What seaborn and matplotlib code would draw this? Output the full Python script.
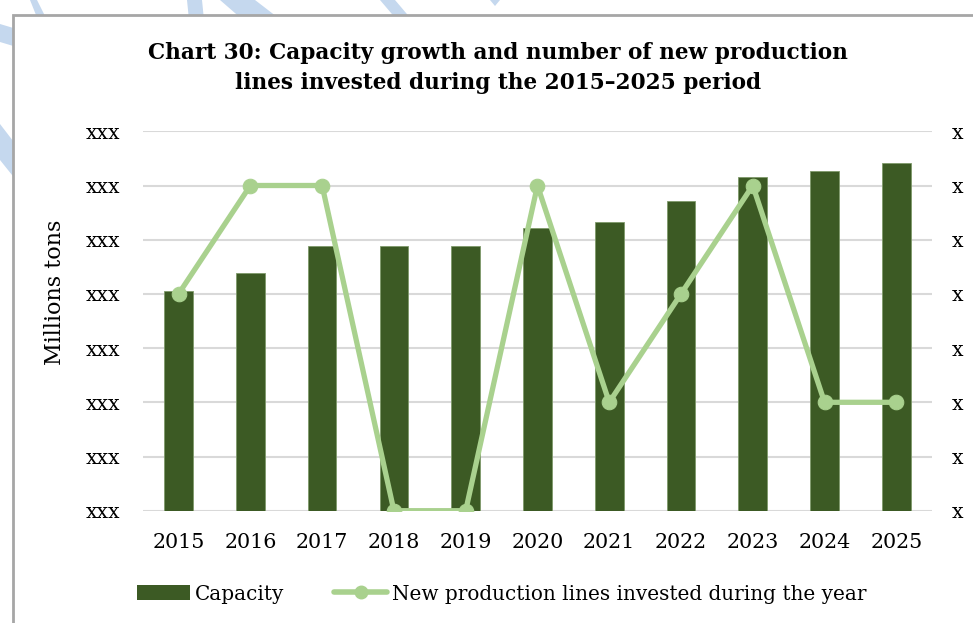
import numpy as np
import pandas as pd
import matplotlib
matplotlib.use("Agg")
import matplotlib.pyplot as plt
import seaborn as sns
from matplotlib.patches import Rectangle, Polygon, Patch
from matplotlib.lines import Line2D

# ---- data ----
years = ["2015", "2016", "2017", "2018", "2019", "2020", "2021", "2022", "2023", "2024", "2025"]
capacity = [4.05, 4.38, 4.89, 4.89, 4.89, 5.21, 5.33, 5.71, 6.16, 6.27, 6.41]
new_lines = [4, 6, 6, 0, 0, 6, 2, 4, 6, 2, 2]
left_ticklabels = ["xxx"] * 8
right_ticklabels = ["x"] * 8

title = "Chart 30: Capacity growth and number of new production\nlines invested during the 2015\u20132025 period"
ylabel = "Millions tons"
bar_label = "Capacity"
line_label = "New production lines invested during the year"

BAR_COLOR = "#3c5a24"
LINE_COLOR = "#a9d18e"
GRID_COLOR = "#d9d9d9"
FONT = ["DejaVu Serif"]

sns.set_theme(style="white")
plt.rcParams["font.family"] = FONT
plt.rcParams["text.color"] = "black"
plt.rcParams["xtick.color"] = "black"
plt.rcParams["ytick.color"] = "black"
plt.rcParams["axes.labelcolor"] = "black"

W, H = 973, 623
fig = plt.figure(figsize=(W / 100, H / 100), dpi=100)
fig.patch.set_facecolor("white")

def fx(x):
    return x / W

def fy(y):
    return 1 - y / H

# watermark stripes behind chart border
stripes = [
    [(30, 0), (37, 0), (47, 20), (38, 20)],
    [(187, 0), (202, 0), (204, 20), (189, 20)],
    [(220, 0), (255, 0), (281, 20), (243, 20)],
    [(380, 0), (395, 0), (412, 20), (397, 20)],
    [(490, 0), (500, 0), (495, 6)],
    [(0, 24), (0, 42), (20, 48), (20, 30)],
    [(0, 124), (0, 160), (20, 185), (20, 150)],
]
for poly in stripes:
    fig.patches.append(Polygon([(fx(x), fy(y)) for x, y in poly], closed=True,
                               transform=fig.transFigure, facecolor="#c5d8ee",
                               edgecolor="none", zorder=-3))
fig.patches.append(Rectangle((fx(13), fy(640)), fx(990) - fx(13), fy(15) - fy(640),
                             transform=fig.transFigure, facecolor="white",
                             edgecolor="#a6a6a6", linewidth=2, zorder=-2))

# axes
x0, x1 = 142.7, 932.2
ytop, ybot = 131.3, 510.7
ax = fig.add_axes([fx(x0), fy(ybot), (x1 - x0) / W, (ybot - ytop) / H])
ax.set_facecolor("none")

df = pd.DataFrame({"year": years, "capacity": capacity, "lines": new_lines})
sns.barplot(data=df, x="year", y="capacity", color=BAR_COLOR, width=0.4,
            saturation=1, edgecolor="#7f9a6a", linewidth=0.6, ax=ax, zorder=2)
ax.set_xlim(-0.5, len(years) - 0.5)
ax.set_ylim(0, 7)
ax.set_yticks(range(8))
ax.set_yticklabels(left_ticklabels, fontsize=14.8)
ax.yaxis.grid(True, color=GRID_COLOR, linewidth=1.5, zorder=0)
ax.set_axisbelow(True)
for s in ax.spines.values():
    s.set_visible(False)
ax.tick_params(axis="y", length=0, pad=16)
ax.tick_params(axis="x", length=0, pad=16, labelsize=14.9)
ax.set_xlabel("")
ax.set_ylabel(ylabel, fontsize=16)
ax.yaxis.set_label_coords((66 - x0) / (x1 - x0), (ybot - 292.5) / (ybot - ytop))

ax2 = ax.twinx()
ax2.set_facecolor("none")
sns.lineplot(x=np.arange(len(years)), y=new_lines, color=LINE_COLOR, linewidth=3.8,
             marker="o", markersize=10.5, markeredgecolor=LINE_COLOR, ax=ax2)
ax2.set_ylim(0, 7)
ax2.set_yticks(range(8))
ax2.set_yticklabels(right_ticklabels, fontsize=14.8)
ax2.tick_params(axis="y", length=0, pad=14)
for s in ax2.spines.values():
    s.set_visible(False)
ax2.grid(False)

fig.text(0.512, fy(68), title, ha="center", va="center", fontsize=15.6,
         fontweight="bold", linespacing=1.45)

handles = [Patch(facecolor=BAR_COLOR, edgecolor="none"),
           Line2D([0], [0], color=LINE_COLOR, linewidth=4, marker="o", markersize=9)]
fig.legend(handles, [bar_label, line_label], loc="center", bbox_to_anchor=(fx(502), fy(594)),
           ncol=2, frameon=False, fontsize=14.4, handlelength=2.65, handletextpad=0.25,
           columnspacing=2.5, handleheight=0.75)

fig.savefig("out.png", dpi=100)
